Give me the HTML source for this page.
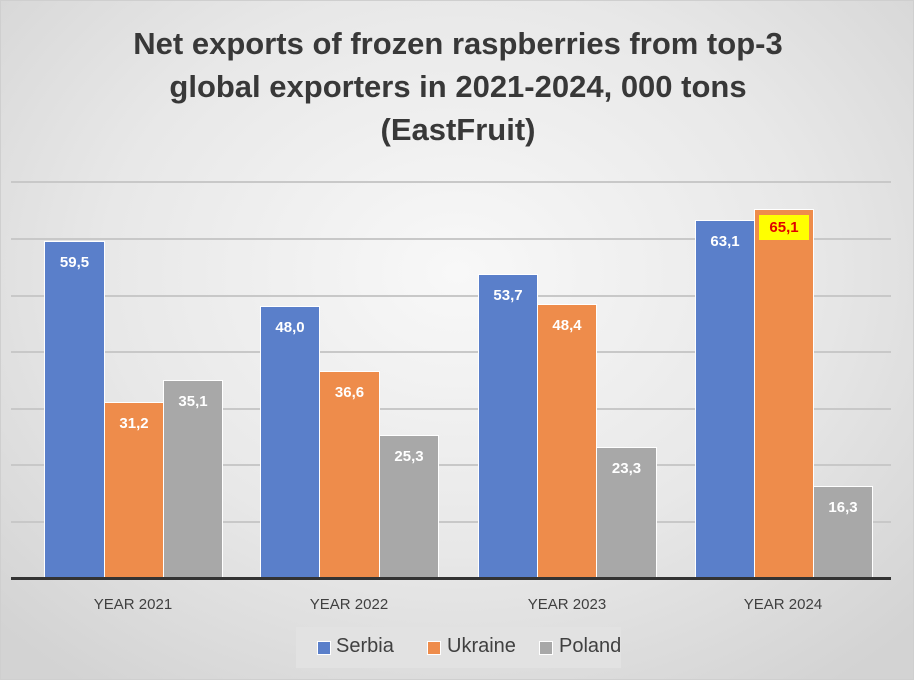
<!DOCTYPE html>
<html><head><style>
body{margin:0;width:914px;height:680px;overflow:hidden;font-family:"Liberation Sans",sans-serif;}
#c{position:absolute;left:0;top:0;width:912px;height:678px;border:1px solid #cfcfcf;background:radial-gradient(ellipse 70% 75% at 50% 40%,#f8f8f8 0%,#e8e8e8 55%,#d3d3d3 100%);}
.t{position:absolute;left:0;width:914px;text-align:center;font-weight:bold;font-size:31px;color:#383838;}
.g{position:absolute;left:10px;width:880px;height:2px;background:#c8c8c8;}
.b{position:absolute;box-sizing:border-box;border:1px solid #fff;border-bottom:none;}
.l{position:absolute;width:100%;text-align:center;top:12px;color:#fff;font-weight:bold;font-size:15px;}
.x{position:absolute;top:595px;width:180px;text-align:center;font-size:15px;color:#404040;}
</style></head><body><div id="c">
<div class="t" style="top:25px">Net exports of frozen raspberries from top-3</div>
<div class="t" style="top:68px">global exporters in 2021-2024, 000 tons</div>
<div class="t" style="top:111px">(EastFruit)</div>
<div class="g" style="top:180px"></div><div class="g" style="top:237px"></div><div class="g" style="top:294px"></div><div class="g" style="top:350px"></div><div class="g" style="top:407px"></div><div class="g" style="top:463px"></div><div class="g" style="top:520px"></div>
<div class="b" style="left:43px;width:61px;top:240px;height:338px;background:#5a7fca"><div class="l">59,5</div></div>
<div class="b" style="left:103px;width:60px;top:401px;height:177px;background:#ee8c4b"><div class="l">31,2</div></div>
<div class="b" style="left:162px;width:60px;top:379px;height:199px;background:#a8a8a8"><div class="l">35,1</div></div>
<div class="b" style="left:259px;width:60px;top:305px;height:273px;background:#5a7fca"><div class="l">48,0</div></div>
<div class="b" style="left:318px;width:61px;top:370px;height:208px;background:#ee8c4b"><div class="l">36,6</div></div>
<div class="b" style="left:378px;width:60px;top:434px;height:144px;background:#a8a8a8"><div class="l">25,3</div></div>
<div class="b" style="left:477px;width:60px;top:273px;height:305px;background:#5a7fca"><div class="l">53,7</div></div>
<div class="b" style="left:536px;width:60px;top:303px;height:275px;background:#ee8c4b"><div class="l">48,4</div></div>
<div class="b" style="left:595px;width:61px;top:446px;height:132px;background:#a8a8a8"><div class="l">23,3</div></div>
<div class="b" style="left:694px;width:60px;top:219px;height:359px;background:#5a7fca"><div class="l">63,1</div></div>
<div class="b" style="left:753px;width:60px;top:208px;height:370px;background:#ee8c4b"><div class="l" style="left:4px;width:50px;top:5px;padding:4px 0;background:#ffff00;color:#e00000">65,1</div></div>
<div class="b" style="left:812px;width:60px;top:485px;height:93px;background:#a8a8a8"><div class="l">16,3</div></div>
<div style="position:absolute;left:10px;top:576px;width:880px;height:3px;background:#333"></div>
<div class="x" style="left:42px">YEAR 2021</div>
<div class="x" style="left:258px">YEAR 2022</div>
<div class="x" style="left:476px">YEAR 2023</div>
<div class="x" style="left:692px">YEAR 2024</div>
<div style="position:absolute;left:295px;top:626px;width:325px;height:41px;background:#e2e2e2;font-size:20px;color:#404040">
<span style="position:absolute;left:21px;top:14px;width:12px;height:12px;background:#5a7fca;border:1px solid #fff"></span><span style="position:absolute;left:40px;top:8px">Serbia</span>
<span style="position:absolute;left:131px;top:14px;width:12px;height:12px;background:#ee8c4b;border:1px solid #fff"></span><span style="position:absolute;left:151px;top:8px">Ukraine</span>
<span style="position:absolute;left:243px;top:14px;width:12px;height:12px;background:#a8a8a8;border:1px solid #fff"></span><span style="position:absolute;left:263px;top:8px">Poland</span>
</div>
</div></body></html>
